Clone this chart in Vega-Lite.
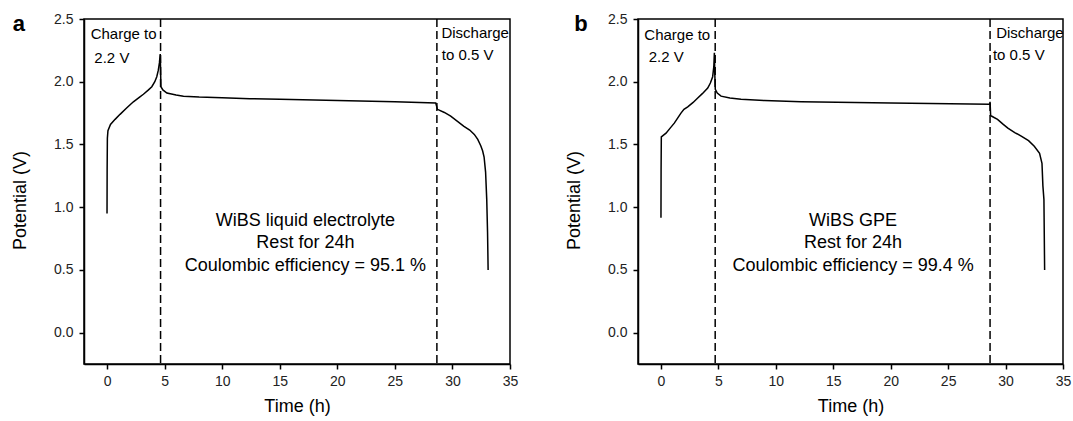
{
  "$schema": "https://vega.github.io/schema/vega-lite/v6.json",
  "padding": {"left": 10, "top": 11, "right": 5, "bottom": 5},
  "background": "white",
  "config": {
    "font": "Liberation Sans",
    "view": {"stroke": "black", "strokeWidth": 1.5},
    "axis": {
      "grid": false, "domainColor": "black", "domainWidth": 1.5,
      "tickColor": "black", "tickWidth": 1.5, "tickSize": 5,
      "labelColor": "#222", "labelFontSize": 14, "labelFont": "Liberation Sans",
      "titleFont": "Liberation Sans", "titleFontSize": 18, "titleFontWeight": "normal", "titleColor": "black",
      "labelFlush": false, "labelOverlap": false
    }
  },
  "datasets": {
    "a": [
      {"t": 0, "v": 0.95}, {"t": 0.01, "v": 1.3}, {"t": 0.03, "v": 1.55}, {"t": 0.08, "v": 1.61},
      {"t": 0.3, "v": 1.66}, {"t": 0.7, "v": 1.7}, {"t": 1.13, "v": 1.74}, {"t": 1.7, "v": 1.79},
      {"t": 2.29, "v": 1.84}, {"t": 2.8, "v": 1.875}, {"t": 3.16, "v": 1.9}, {"t": 3.6, "v": 1.935},
      {"t": 3.89, "v": 1.96}, {"t": 4.15, "v": 2.0}, {"t": 4.32, "v": 2.04}, {"t": 4.45, "v": 2.09},
      {"t": 4.55, "v": 2.15}, {"t": 4.62, "v": 2.22}, {"t": 4.65, "v": 2.1}, {"t": 4.68, "v": 1.96},
      {"t": 4.85, "v": 1.935}, {"t": 5.2, "v": 1.91}, {"t": 6, "v": 1.895}, {"t": 6.64, "v": 1.885},
      {"t": 8, "v": 1.878}, {"t": 10, "v": 1.872}, {"t": 12.4, "v": 1.865}, {"t": 15, "v": 1.86},
      {"t": 20, "v": 1.85}, {"t": 25, "v": 1.84}, {"t": 28.55, "v": 1.83}, {"t": 28.7, "v": 1.78},
      {"t": 29.3, "v": 1.755}, {"t": 29.85, "v": 1.725}, {"t": 31.0, "v": 1.645}, {"t": 31.5, "v": 1.615},
      {"t": 31.9, "v": 1.58}, {"t": 32.2, "v": 1.54}, {"t": 32.46, "v": 1.49}, {"t": 32.62, "v": 1.45},
      {"t": 32.75, "v": 1.4}, {"t": 32.88, "v": 1.28}, {"t": 32.98, "v": 1.06}, {"t": 33.05, "v": 0.8},
      {"t": 33.1, "v": 0.5}
    ],
    "b": [
      {"t": 0, "v": 0.915}, {"t": 0.01, "v": 1.3}, {"t": 0.03, "v": 1.56}, {"t": 0.44, "v": 1.59},
      {"t": 0.8, "v": 1.63}, {"t": 1.16, "v": 1.67}, {"t": 1.45, "v": 1.71}, {"t": 1.74, "v": 1.75},
      {"t": 2.0, "v": 1.78}, {"t": 2.33, "v": 1.8}, {"t": 2.8, "v": 1.835}, {"t": 3.2, "v": 1.87},
      {"t": 3.6, "v": 1.905}, {"t": 4.07, "v": 1.95}, {"t": 4.3, "v": 1.99}, {"t": 4.5, "v": 2.04},
      {"t": 4.6, "v": 2.12}, {"t": 4.65, "v": 2.23}, {"t": 4.69, "v": 2.05}, {"t": 4.73, "v": 1.94},
      {"t": 4.9, "v": 1.91}, {"t": 5.23, "v": 1.885}, {"t": 6.0, "v": 1.87}, {"t": 6.97, "v": 1.86},
      {"t": 9, "v": 1.85}, {"t": 12.2, "v": 1.84}, {"t": 20, "v": 1.83}, {"t": 28.6, "v": 1.82},
      {"t": 28.65, "v": 1.84}, {"t": 28.7, "v": 1.73}, {"t": 28.8, "v": 1.725}, {"t": 29.3, "v": 1.7},
      {"t": 29.8, "v": 1.66}, {"t": 30.2, "v": 1.63}, {"t": 30.8, "v": 1.595}, {"t": 31.4, "v": 1.565},
      {"t": 32.0, "v": 1.53}, {"t": 32.5, "v": 1.486}, {"t": 32.96, "v": 1.43}, {"t": 33.17, "v": 1.35},
      {"t": 33.25, "v": 1.17}, {"t": 33.34, "v": 1.06}, {"t": 33.4, "v": 0.5}
    ]
  },
  "bounds": "flush",
  "spacing": 128,
  "hconcat": [
    {
      "width": 426, "height": 345,
      "layer": [
        {
          "data": {"name": "a"},
          "mark": {"type": "line", "color": "black", "strokeWidth": 1.5},
          "encoding": {
            "x": {"field": "t", "type": "quantitative", "sort": null,
              "scale": {"domain": [-2, 35], "nice": false, "zero": false},
              "axis": {"title": "Time (h)", "values": [0, 2.5, 5, 7.5, 10, 12.5, 15, 17.5, 20, 22.5, 25, 27.5, 30, 32.5, 35],
                "labelExpr": "datum.value % 5 === 0 ? datum.label : ''", "format": "d", "labelPadding": 5, "titlePadding": 9}},
            "y": {"field": "v", "type": "quantitative",
              "scale": {"domain": [-0.25, 2.5], "nice": false, "zero": false},
              "axis": {"title": "Potential (V)", "values": [0, 0.25, 0.5, 0.75, 1, 1.25, 1.5, 1.75, 2, 2.25, 2.5],
                "format": ".1f", "labelExpr": "abs(datum.value * 2 - round(datum.value * 2)) < 0.001 ? datum.label : ''",
                "labelPadding": 6, "titlePadding": 24, "titleY": 181}}
          }
        },
        {"data": {"values": [{}]}, "mark": {"type": "rule", "strokeDash": [8, 4], "strokeWidth": 1.5, "color": "black"},
          "encoding": {"x": {"datum": 4.65, "type": "quantitative"}}},
        {"data": {"values": [{}]}, "mark": {"type": "rule", "strokeDash": [8, 4], "strokeWidth": 1.5, "color": "black"},
          "encoding": {"x": {"datum": 28.65, "type": "quantitative"}}},
        {"data": {"values": [{}]}, "mark": {"type": "text", "align": "left", "baseline": "middle", "fontSize": 15, "text": "Charge to"},
          "encoding": {"x": {"datum": -1.42, "type": "quantitative"}, "y": {"datum": 2.38, "type": "quantitative"}}},
        {"data": {"values": [{}]}, "mark": {"type": "text", "align": "left", "baseline": "middle", "fontSize": 15, "text": "2.2 V"},
          "encoding": {"x": {"datum": -1.1, "type": "quantitative"}, "y": {"datum": 2.19, "type": "quantitative"}}},
        {"data": {"values": [{}]}, "mark": {"type": "text", "align": "left", "baseline": "middle", "fontSize": 15, "text": "Discharge"},
          "encoding": {"x": {"datum": 29.04, "type": "quantitative"}, "y": {"datum": 2.39, "type": "quantitative"}}},
        {"data": {"values": [{}]}, "mark": {"type": "text", "align": "left", "baseline": "middle", "fontSize": 15, "text": "to 0.5 V"},
          "encoding": {"x": {"datum": 29.07, "type": "quantitative"}, "y": {"datum": 2.215, "type": "quantitative"}}},
        {"data": {"values": [{}]}, "mark": {"type": "text", "align": "center", "baseline": "middle", "fontSize": 18, "lineHeight": 22.5,
            "text": ["WiBS liquid electrolyte", "Rest for 24h", "Coulombic efficiency = 95.1 %"]},
          "encoding": {"x": {"datum": 17.23, "type": "quantitative"}, "y": {"datum": 0.89, "type": "quantitative"}}},
        {"data": {"values": [{}]}, "mark": {"type": "text", "align": "center", "baseline": "middle", "fontSize": 22, "fontWeight": "bold", "text": "a"},
          "encoding": {"x": {"datum": -7.66, "type": "quantitative"}, "y": {"datum": 2.46, "type": "quantitative"}}}
      ]
    },
    {
      "width": 425, "height": 345,
      "layer": [
        {
          "data": {"name": "b"},
          "mark": {"type": "line", "color": "black", "strokeWidth": 1.5},
          "encoding": {
            "x": {"field": "t", "type": "quantitative", "sort": null,
              "scale": {"domain": [-2, 35], "nice": false, "zero": false},
              "axis": {"title": "Time (h)", "values": [0, 2.5, 5, 7.5, 10, 12.5, 15, 17.5, 20, 22.5, 25, 27.5, 30, 32.5, 35],
                "labelExpr": "datum.value % 5 === 0 ? datum.label : ''", "format": "d", "labelPadding": 5, "titlePadding": 9}},
            "y": {"field": "v", "type": "quantitative",
              "scale": {"domain": [-0.25, 2.5], "nice": false, "zero": false},
              "axis": {"title": "Potential (V)", "values": [0, 0.25, 0.5, 0.75, 1, 1.25, 1.5, 1.75, 2, 2.25, 2.5],
                "format": ".1f", "labelExpr": "abs(datum.value * 2 - round(datum.value * 2)) < 0.001 ? datum.label : ''",
                "labelPadding": 6, "titlePadding": 24, "titleY": 181}}
          }
        },
        {"data": {"values": [{}]}, "mark": {"type": "rule", "strokeDash": [8, 4], "strokeWidth": 1.5, "color": "black"},
          "encoding": {"x": {"datum": 4.72, "type": "quantitative"}}},
        {"data": {"values": [{}]}, "mark": {"type": "rule", "strokeDash": [8, 4], "strokeWidth": 1.5, "color": "black"},
          "encoding": {"x": {"datum": 28.65, "type": "quantitative"}}},
        {"data": {"values": [{}]}, "mark": {"type": "text", "align": "left", "baseline": "middle", "fontSize": 15, "text": "Charge to"},
          "encoding": {"x": {"datum": -1.45, "type": "quantitative"}, "y": {"datum": 2.375, "type": "quantitative"}}},
        {"data": {"values": [{}]}, "mark": {"type": "text", "align": "left", "baseline": "middle", "fontSize": 15, "text": "2.2 V"},
          "encoding": {"x": {"datum": -1.07, "type": "quantitative"}, "y": {"datum": 2.197, "type": "quantitative"}}},
        {"data": {"values": [{}]}, "mark": {"type": "text", "align": "left", "baseline": "middle", "fontSize": 15, "text": "Discharge"},
          "encoding": {"x": {"datum": 29.18, "type": "quantitative"}, "y": {"datum": 2.39, "type": "quantitative"}}},
        {"data": {"values": [{}]}, "mark": {"type": "text", "align": "left", "baseline": "middle", "fontSize": 15, "text": "to 0.5 V"},
          "encoding": {"x": {"datum": 28.9, "type": "quantitative"}, "y": {"datum": 2.215, "type": "quantitative"}}},
        {"data": {"values": [{}]}, "mark": {"type": "text", "align": "center", "baseline": "middle", "fontSize": 18, "lineHeight": 22.5,
            "text": ["WiBS GPE", "Rest for 24h", "Coulombic efficiency = 99.4 %"]},
          "encoding": {"x": {"datum": 16.72, "type": "quantitative"}, "y": {"datum": 0.89, "type": "quantitative"}}},
        {"data": {"values": [{}]}, "mark": {"type": "text", "align": "center", "baseline": "middle", "fontSize": 22, "fontWeight": "bold", "text": "b"},
          "encoding": {"x": {"datum": -6.97, "type": "quantitative"}, "y": {"datum": 2.46, "type": "quantitative"}}}
      ]
    }
  ]
}
